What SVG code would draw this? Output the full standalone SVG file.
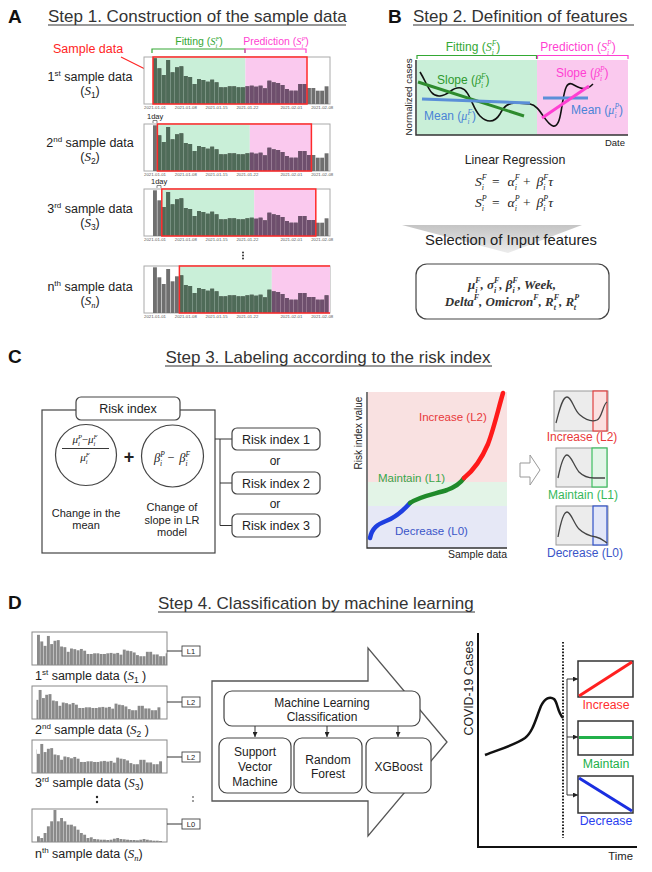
<svg xmlns="http://www.w3.org/2000/svg" xmlns:xlink="http://www.w3.org/1999/xlink" width="652" height="872" viewBox="0 0 652 872">
<style>
.s{font-family:"Liberation Sans",Arial,sans-serif;fill:#222}
.m{font-family:"Liberation Serif","DejaVu Serif",serif;font-style:italic}
.mb{font-family:"Liberation Serif","DejaVu Serif",serif;font-style:italic;font-weight:bold;fill:#333}
.up{font-style:normal}
.ttl{font-size:17px;fill:#333}
.pl{font-family:"Liberation Sans",Arial,sans-serif;font-weight:bold;font-size:19px;fill:#111}
.frame{fill:#fff;stroke:#aaa;stroke-width:1}
.tick{font-family:"Liberation Sans",Arial,sans-serif;font-size:4.3px;fill:#555;text-anchor:middle}
.box{fill:#fff;stroke:#444;stroke-width:1.2}
.ln{fill:none;stroke:#333;stroke-width:1}
.dfr{fill:#fff;stroke:#888;stroke-width:1}
.lb{fill:#fff;stroke:#444;stroke-width:0.9}
</style>
<defs>
<marker id="ah" viewBox="0 0 6 6" refX="6" refY="3" markerWidth="5" markerHeight="5" orient="auto"><path d="M0,0 L6,3 L0,6 z" fill="#222"/></marker>
<linearGradient id="gsel" x1="0" y1="0" x2="0" y2="1"><stop offset="0" stop-color="#c4c4c4"/><stop offset="1" stop-color="#ececec"/></linearGradient>
<clipPath id="cA"><rect x="-9" y="-48" width="186" height="49"/></clipPath>
<clipPath id="cF"><rect x="0" y="-48" width="92.4" height="49"/></clipPath>
<clipPath id="cP"><rect x="92.4" y="-48" width="61.6" height="49"/></clipPath>
<clipPath id="cD"><rect x="4.5" y="-33" width="130.5" height="33"/></clipPath>
<g id="barsA">
<rect x="0" y="-45.7" width="3.9" height="45.7"/><rect x="4.4" y="-35.7" width="3.9" height="35.7"/><rect x="8.8" y="-29" width="3.9" height="29"/><rect x="13.2" y="-44" width="3.9" height="44"/><rect x="17.6" y="-31.7" width="3.9" height="31.7"/><rect x="22" y="-36.7" width="3.9" height="36.7"/><rect x="26.4" y="-37.7" width="3.9" height="37.7"/><rect x="30.8" y="-28" width="3.9" height="28"/><rect x="35.2" y="-27" width="3.9" height="27"/><rect x="39.6" y="-20" width="3.9" height="20"/><rect x="44" y="-25" width="3.9" height="25"/><rect x="48.4" y="-24" width="3.9" height="24"/><rect x="52.8" y="-22.3" width="3.9" height="22.3"/><rect x="57.2" y="-24.3" width="3.9" height="24.3"/><rect x="61.6" y="-21.7" width="3.9" height="21.7"/><rect x="66" y="-16.7" width="3.9" height="16.7"/><rect x="70.4" y="-16.7" width="3.9" height="16.7"/><rect x="74.8" y="-17.7" width="3.9" height="17.7"/><rect x="79.2" y="-17.7" width="3.9" height="17.7"/><rect x="83.6" y="-16.7" width="3.9" height="16.7"/><rect x="88" y="-16.7" width="3.9" height="16.7"/><rect x="92.4" y="-17.7" width="3.9" height="17.7"/><rect x="96.8" y="-18.3" width="3.9" height="18.3"/><rect x="101.2" y="-17.3" width="3.9" height="17.3"/><rect x="105.6" y="-18.3" width="3.9" height="18.3"/><rect x="110" y="-15.7" width="3.9" height="15.7"/><rect x="114.4" y="-23.3" width="3.9" height="23.3"/><rect x="118.8" y="-21.7" width="3.9" height="21.7"/><rect x="123.2" y="-21" width="3.9" height="21"/><rect x="127.6" y="-19" width="3.9" height="19"/><rect x="132" y="-15" width="3.9" height="15"/><rect x="136.4" y="-13.3" width="3.9" height="13.3"/><rect x="140.8" y="-13.3" width="3.9" height="13.3"/><rect x="145.2" y="-20" width="3.9" height="20"/><rect x="149.6" y="-20" width="3.9" height="20"/><rect x="154" y="-16" width="3.9" height="16"/><rect x="158.4" y="-16" width="3.9" height="16"/><rect x="162.8" y="-13.3" width="3.9" height="13.3"/><rect x="167.2" y="-13.3" width="3.9" height="13.3"/><rect x="171.6" y="-17.7" width="3.9" height="17.7"/>
</g>
<g id="barsN">
<rect x="0" y="-5.7" width="2.9" height="5.7"/><rect x="3.3" y="-4" width="2.9" height="4"/><rect x="6.6" y="-9" width="2.9" height="9"/><rect x="9.9" y="-15.7" width="2.9" height="15.7"/><rect x="13.2" y="-20.7" width="2.9" height="20.7"/><rect x="16.5" y="-32" width="2.9" height="32"/><rect x="19.8" y="-20.7" width="2.9" height="20.7"/><rect x="23.1" y="-24" width="2.9" height="24"/><rect x="26.4" y="-20.7" width="2.9" height="20.7"/><rect x="29.7" y="-17.3" width="2.9" height="17.3"/><rect x="33" y="-17.3" width="2.9" height="17.3"/><rect x="36.3" y="-15.7" width="2.9" height="15.7"/><rect x="39.6" y="-12.3" width="2.9" height="12.3"/><rect x="42.9" y="-9" width="2.9" height="9"/><rect x="46.2" y="-7.3" width="2.9" height="7.3"/><rect x="49.5" y="-4" width="2.9" height="4"/><rect x="52.8" y="-4.7" width="2.9" height="4.7"/><rect x="56.1" y="-3" width="2.9" height="3"/><rect x="59.4" y="-2.7" width="2.9" height="2.7"/><rect x="62.7" y="-2.3" width="2.9" height="2.3"/><rect x="66" y="-2.3" width="2.9" height="2.3"/><rect x="69.3" y="-2" width="2.9" height="2"/><rect x="72.6" y="-2.3" width="2.9" height="2.3"/><rect x="75.9" y="-3.3" width="2.9" height="3.3"/><rect x="79.2" y="-4" width="2.9" height="4"/><rect x="82.5" y="-3" width="2.9" height="3"/><rect x="85.8" y="-2.7" width="2.9" height="2.7"/><rect x="89.1" y="-2.3" width="2.9" height="2.3"/><rect x="92.4" y="-2" width="2.9" height="2"/><rect x="95.7" y="-2" width="2.9" height="2"/><rect x="99" y="-1.7" width="2.9" height="1.7"/><rect x="102.3" y="-2.3" width="2.9" height="2.3"/><rect x="105.6" y="-3" width="2.9" height="3"/><rect x="108.9" y="-2.3" width="2.9" height="2.3"/><rect x="112.2" y="-1.7" width="2.9" height="1.7"/><rect x="115.5" y="-1.3" width="2.9" height="1.3"/><rect x="118.8" y="-1.3" width="2.9" height="1.3"/><rect x="122.1" y="-1" width="2.9" height="1"/>
</g>
<g id="ticks" class="tick"><text x="2" y="5">2021-01-01</text><text x="32.8" y="5">2021-01-08</text><text x="63.6" y="5">2021-01-15</text><text x="94.4" y="5">2021-01-22</text><text x="138.4" y="5">2021-02-01</text><text x="169.2" y="5">2021-02-08</text></g>
</defs>
<rect width="652" height="872" fill="#fff"/>

<!-- ===== Panel A ===== -->
<g id="panelA">
<text class="pl" x="8" y="23">A</text>
<text class="s ttl" x="48" y="22">Step 1. Construction of the sample data</text>
<line x1="48" y1="25" x2="346" y2="25" stroke="#333" stroke-width="1"/>
<g id="sampleLabel">
<text class="s" x="53" y="53" font-size="12.5" style="fill:#ff2424">Sample data</text>
<line x1="121" y1="57" x2="153" y2="73" stroke="#ff2424" stroke-width="1.2"/>
</g>
<g id="fitA">
<text class="s" x="199" y="45" font-size="10.5" text-anchor="middle" style="fill:#34a834">Fitting (<tspan class="m">S</tspan><tspan class="m" font-size="6.5" dy="-4.5">F</tspan><tspan class="m" font-size="6.5" dx="-4" dy="7.7">i</tspan><tspan dx="2" dy="-3.2">)</tspan></text>
<path d="M152,53 V49 H245 V53" fill="none" stroke="#34a834" stroke-width="1.2"/>
</g>
<g id="predA">
<text class="s" x="276" y="45" font-size="10.5" text-anchor="middle" style="fill:#ff3fd2">Prediction (<tspan class="m">S</tspan><tspan class="m" font-size="6.5" dy="-4.5">P</tspan><tspan class="m" font-size="6.5" dx="-4" dy="7.7">i</tspan><tspan dx="2" dy="-3.2">)</tspan></text>
<path d="M245,53 V49 H306 V53" fill="none" stroke="#ff3fd2" stroke-width="1.2"/>
</g>

<g id="chartA1">
<rect class="frame" x="144" y="57" width="186" height="47"/>
<g transform="translate(153,104)">
<g clip-path="url(#cA)">
<rect x="0" y="-47" width="92.4" height="47" fill="#c9efd8"/>
<rect x="92.4" y="-47" width="61.6" height="47" fill="#fac9ee"/>
<use xlink:href="#barsA" fill="#6f6f6f"/>
<g clip-path="url(#cF)"><use xlink:href="#barsA" fill="#4f6b58"/></g>
<g clip-path="url(#cP)"><use xlink:href="#barsA" fill="#6e4f6d"/></g>
<rect x="0" y="-47" width="154" height="47" fill="none" stroke="#ff2a2a" stroke-width="1.5"/>
</g>
<use xlink:href="#ticks"/>
</g>
<text class="s" x="90" y="81" font-size="12.5" text-anchor="middle">1<tspan font-size="8" dy="-5">st</tspan><tspan dy="5"> sample data</tspan></text>
<text class="s" x="90" y="95" font-size="12.5" text-anchor="middle">(<tspan class="m" font-size="13">S</tspan><tspan font-size="8.5" dy="3">1</tspan><tspan dy="-3">)</tspan></text>
</g>

<g id="chartA2">
<rect class="frame" x="144" y="124" width="186" height="47"/>
<g transform="translate(153,171)">
<g clip-path="url(#cA)">
<rect x="4.4" y="-47" width="92.4" height="47" fill="#c9efd8"/>
<rect x="96.8" y="-47" width="61.6" height="47" fill="#fac9ee"/>
<use xlink:href="#barsA" fill="#6f6f6f"/>
<g transform="translate(4.4,0)" clip-path="url(#cF)"><use xlink:href="#barsA" transform="translate(-4.4,0)" fill="#4f6b58"/></g>
<g transform="translate(4.4,0)" clip-path="url(#cP)"><use xlink:href="#barsA" transform="translate(-4.4,0)" fill="#6e4f6d"/></g>
<rect x="4.4" y="-47" width="154" height="47" fill="none" stroke="#ff2a2a" stroke-width="1.5"/>
</g>
<use xlink:href="#ticks"/>
</g>
<text class="s" x="147" y="119" font-size="7.5">1day</text>
<path d="M153,123 V120.5 H157 V123" fill="none" stroke="#555" stroke-width="0.7"/>
<text class="s" x="90" y="147" font-size="12.5" text-anchor="middle">2<tspan font-size="8" dy="-5">nd</tspan><tspan dy="5"> sample data</tspan></text>
<text class="s" x="90" y="161" font-size="12.5" text-anchor="middle">(<tspan class="m" font-size="13">S</tspan><tspan font-size="8.5" dy="3">2</tspan><tspan dy="-3">)</tspan></text>
</g>

<g id="chartA3">
<rect class="frame" x="144" y="189" width="186" height="47"/>
<g transform="translate(153,236)">
<g clip-path="url(#cA)">
<rect x="8.8" y="-47" width="92.4" height="47" fill="#c9efd8"/>
<rect x="101.2" y="-47" width="61.6" height="47" fill="#fac9ee"/>
<use xlink:href="#barsA" fill="#6f6f6f"/>
<g transform="translate(8.8,0)" clip-path="url(#cF)"><use xlink:href="#barsA" transform="translate(-8.8,0)" fill="#4f6b58"/></g>
<g transform="translate(8.8,0)" clip-path="url(#cP)"><use xlink:href="#barsA" transform="translate(-8.8,0)" fill="#6e4f6d"/></g>
<rect x="8.8" y="-47" width="154" height="47" fill="none" stroke="#ff2a2a" stroke-width="1.5"/>
</g>
<use xlink:href="#ticks"/>
</g>
<text class="s" x="151" y="184" font-size="7.5">1day</text>
<path d="M157,188 V185.5 H161 V188" fill="none" stroke="#555" stroke-width="0.7"/>
<text class="s" x="90" y="213" font-size="12.5" text-anchor="middle">3<tspan font-size="8" dy="-5">rd</tspan><tspan dy="5"> sample data</tspan></text>
<text class="s" x="90" y="227" font-size="12.5" text-anchor="middle">(<tspan class="m" font-size="13">S</tspan><tspan font-size="8.5" dy="3">3</tspan><tspan dy="-3">)</tspan></text>
</g>

<g id="dotsA" fill="#333"><circle cx="243" cy="252.5" r="1"/><circle cx="243" cy="255.5" r="1"/><circle cx="243" cy="258.5" r="1"/></g>

<g id="chartAn">
<rect class="frame" x="144" y="266" width="186" height="47"/>
<g transform="translate(153,313)">
<g clip-path="url(#cA)">
<rect x="26.4" y="-47" width="92.4" height="47" fill="#c9efd8"/>
<rect x="118.8" y="-47" width="61.6" height="47" fill="#fac9ee"/>
<use xlink:href="#barsA" fill="#6f6f6f"/>
<g transform="translate(26.4,0)" clip-path="url(#cF)"><use xlink:href="#barsA" transform="translate(-26.4,0)" fill="#4f6b58"/></g>
<g transform="translate(26.4,0)" clip-path="url(#cP)"><use xlink:href="#barsA" transform="translate(-26.4,0)" fill="#6e4f6d"/></g>
<rect x="26.4" y="-47" width="154" height="47" fill="none" stroke="#ff2a2a" stroke-width="1.5"/>
</g>
<use xlink:href="#ticks"/>
</g>
<text class="s" x="90" y="291" font-size="12.5" text-anchor="middle">n<tspan font-size="8" dy="-5">th</tspan><tspan dy="5"> sample data</tspan></text>
<text class="s" x="90" y="305" font-size="12.5" text-anchor="middle">(<tspan class="m" font-size="13">S</tspan><tspan class="m" font-size="8.5" dy="3">n</tspan><tspan dy="-3">)</tspan></text>
</g>
</g>

<!-- ===== Panel B ===== -->
<g id="panelB">
<text class="pl" x="388" y="23">B</text>
<text class="s ttl" x="413" y="22">Step 2.  Definition of features</text>
<line x1="413" y1="25" x2="634" y2="25" stroke="#333" stroke-width="1"/>
<g id="plotB">
<rect x="417" y="60" width="120" height="75" fill="#c9efd8"/>
<rect x="537" y="60" width="91" height="75" fill="#fac9ee"/>
<path d="M417,59 V55.5 H536.5 V59" fill="none" stroke="#34a834" stroke-width="1.2"/>
<path d="M537.5,59 V55.5 H628 V59" fill="none" stroke="#ff3fd2" stroke-width="1.2"/>
<text class="s" x="473" y="51" font-size="12" text-anchor="middle" style="fill:#34a834">Fitting (<tspan class="m">S</tspan><tspan class="m" font-size="7.5" dy="-5">F</tspan><tspan class="m" font-size="7.5" dx="-4.6" dy="8.5">i</tspan><tspan dx="2.5" dy="-3.5">)</tspan></text>
<text class="s" x="578" y="51" font-size="12" text-anchor="middle" style="fill:#ff3fd2">Prediction (<tspan class="m">S</tspan><tspan class="m" font-size="7.5" dy="-5">P</tspan><tspan class="m" font-size="7.5" dx="-4.6" dy="8.5">i</tspan><tspan dx="2.5" dy="-3.5">)</tspan></text>
<path d="M416,60 V135 H628" fill="none" stroke="#333" stroke-width="1.5"/>
<path d="M420,72 C428,85 430,97 440,96 C450,95 452,86 461,88 C470,90 472,108 480,116 C486,122 494,124 500,114 C504,106 508,103 516,103 L530,104 C540,105 545,124 553,126 C560,128 561,110 563,100 C565,88 567,82 572,84 C580,88 585,92 593,84" fill="none" stroke="#111" stroke-width="1.6"/>
<line x1="418" y1="82" x2="524" y2="116" stroke="#2e8b2e" stroke-width="3"/>
<line x1="422" y1="99" x2="530" y2="103" stroke="#5b8fd8" stroke-width="3"/>
<line x1="543" y1="98" x2="588" y2="98" stroke="#5b8fd8" stroke-width="3"/>
<line x1="542" y1="118" x2="589" y2="86" stroke="#ff3fd2" stroke-width="3"/>
<text class="s" x="437" y="84" font-size="12" style="fill:#2e9a2e">Slope (<tspan class="m">β</tspan><tspan class="m" font-size="7.5" dy="-5">F</tspan><tspan class="m" font-size="7.5" dx="-4.6" dy="8.5">i</tspan><tspan dx="2.5" dy="-3.5">)</tspan></text>
<text class="s" x="424" y="120" font-size="12" style="fill:#4a84d6">Mean (<tspan class="m">μ</tspan><tspan class="m" font-size="7.5" dy="-5">F</tspan><tspan class="m" font-size="7.5" dx="-4.6" dy="8.5">i</tspan><tspan dx="2.5" dy="-3.5">)</tspan></text>
<text class="s" x="556" y="77" font-size="12" style="fill:#ff3fd2">Slope (<tspan class="m">β</tspan><tspan class="m" font-size="7.5" dy="-5">P</tspan><tspan class="m" font-size="7.5" dx="-4.6" dy="8.5">i</tspan><tspan dx="2.5" dy="-3.5">)</tspan></text>
<text class="s" x="571" y="114" font-size="12" style="fill:#4a84d6">Mean (<tspan class="m">μ</tspan><tspan class="m" font-size="7.5" dy="-5">P</tspan><tspan class="m" font-size="7.5" dx="-4.6" dy="8.5">i</tspan><tspan dx="2.5" dy="-3.5">)</tspan></text>
<text class="s" x="0" y="0" font-size="9.7" text-anchor="middle" transform="translate(412,97) rotate(-90)">Normalized cases</text>
<text class="s" x="625" y="146" font-size="9.5" text-anchor="end">Date</text>
</g>
<g id="lrB">
<text class="s" x="515" y="164" font-size="12.4" text-anchor="middle">Linear Regression</text>
<text class="m" x="514" y="186" font-size="13.5" text-anchor="middle" fill="#222">S<tspan font-size="8" dy="-6">F</tspan><tspan font-size="8" dx="-4.9" dy="9.5">i</tspan><tspan class="up" dx="8" dy="-3.5">=</tspan><tspan dx="8">α</tspan><tspan font-size="8" dy="-6">F</tspan><tspan font-size="8" dx="-4.9" dy="9.5">i</tspan><tspan class="up" dx="6" dy="-3.5">+</tspan><tspan dx="6">β</tspan><tspan font-size="8" dy="-6">F</tspan><tspan font-size="8" dx="-4.9" dy="9.5">i</tspan><tspan dx="2.7" dy="-3.5">τ</tspan></text>
<text class="m" x="514" y="207" font-size="13.5" text-anchor="middle" fill="#222">S<tspan font-size="8" dy="-6">P</tspan><tspan font-size="8" dx="-4.9" dy="9.5">i</tspan><tspan class="up" dx="8" dy="-3.5">=</tspan><tspan dx="8">α</tspan><tspan font-size="8" dy="-6">P</tspan><tspan font-size="8" dx="-4.9" dy="9.5">i</tspan><tspan class="up" dx="6" dy="-3.5">+</tspan><tspan dx="6">β</tspan><tspan font-size="8" dy="-6">P</tspan><tspan font-size="8" dx="-4.9" dy="9.5">i</tspan><tspan dx="2.7" dy="-3.5">τ</tspan></text>
</g>
<g id="selB">
<polygon points="402,225 582,225 508,253" fill="url(#gsel)"/>
<text class="s" x="511" y="245" font-size="14.8" text-anchor="middle">Selection of Input features</text>
</g>
<g id="featB">
<rect class="box" x="416" y="264" width="193" height="55" rx="11"/>
<text class="mb" x="512" y="289" font-size="13" text-anchor="middle">μ<tspan font-size="8" dy="-6">F</tspan><tspan font-size="8" dx="-5.3" dy="9.5">i</tspan><tspan dx="3" dy="-3.5">, σ</tspan><tspan font-size="8" dy="-6">F</tspan><tspan font-size="8" dx="-5.3" dy="9.5">i</tspan><tspan dx="3" dy="-3.5">, β</tspan><tspan font-size="8" dy="-6">F</tspan><tspan font-size="8" dx="-5.3" dy="9.5">i</tspan><tspan dx="3" dy="-3.5">, Week,</tspan></text>
<text class="mb" x="512" y="306" font-size="13" text-anchor="middle">Delta<tspan font-size="8" dy="-6">F</tspan><tspan dy="6">, Omicron</tspan><tspan font-size="8" dy="-6">F</tspan><tspan dy="6">, R</tspan><tspan font-size="8" dy="-6">F</tspan><tspan font-size="8" dx="-5.3" dy="9.5">t</tspan><tspan dx="3" dy="-3.5">, R</tspan><tspan font-size="8" dy="-6">P</tspan><tspan font-size="8" dx="-5.3" dy="9.5">t</tspan></text>
</g>
</g>

<!-- ===== Panel C ===== -->
<g id="panelC">
<text class="pl" x="8" y="363">C</text>
<text class="s ttl" x="328" y="363" text-anchor="middle">Step 3. Labeling according to the risk index</text>
<line x1="165" y1="366" x2="492" y2="366" stroke="#333" stroke-width="1"/>
<g id="riskBox">
<rect x="42" y="410" width="173" height="143" fill="#fff" stroke="#444" stroke-width="1.2"/>
<rect class="box" x="76" y="397" width="104" height="23" rx="5"/>
<text class="s" x="128" y="413" font-size="12.5" text-anchor="middle">Risk index</text>
<circle cx="86" cy="455" r="30.5" fill="#fff" stroke="#444" stroke-width="1.2"/>
<text class="m" x="85" y="443" font-size="11" text-anchor="middle" fill="#222">μ<tspan font-size="6.5" dy="-4.5">P</tspan><tspan font-size="6.5" dx="-4" dy="7.5">i</tspan><tspan class="up" dx="2" dy="-3">−</tspan>μ<tspan font-size="6.5" dy="-4.5">F</tspan><tspan font-size="6.5" dx="-4" dy="7.5">i</tspan></text>
<line x1="62" y1="448.5" x2="109" y2="448.5" stroke="#222" stroke-width="0.9"/>
<text class="m" x="85" y="461" font-size="11" text-anchor="middle" fill="#222">μ<tspan font-size="6.5" dy="-4.5">F</tspan><tspan font-size="6.5" dx="-4" dy="7.5">i</tspan></text>
<text class="s" x="129" y="463" font-size="18" font-weight="bold" text-anchor="middle">+</text>
<circle cx="172.5" cy="456" r="31" fill="#fff" stroke="#444" stroke-width="1.2"/>
<text class="m" x="172" y="462" font-size="12.5" text-anchor="middle" fill="#222">β<tspan font-size="7.5" dy="-5">P</tspan><tspan font-size="7.5" dx="-4.6" dy="8.5">i</tspan><tspan class="up" dx="5" dy="-3.5">−</tspan><tspan dx="5">β</tspan><tspan font-size="7.5" dy="-5">F</tspan><tspan font-size="7.5" dx="-4.6" dy="8.5">i</tspan></text>
<text class="s" x="86" y="517" font-size="11" text-anchor="middle">Change in the</text>
<text class="s" x="86" y="529" font-size="11" text-anchor="middle">mean</text>
<text class="s" x="172" y="511" font-size="11" text-anchor="middle">Change of</text>
<text class="s" x="172" y="523.5" font-size="11" text-anchor="middle">slope in LR</text>
<text class="s" x="172" y="536" font-size="11" text-anchor="middle">model</text>
</g>
<g id="connC">
<path class="ln" d="M215,439 H232 M220,439 V525.5 M220,483 H232 M220,525.5 H232"/>
</g>
<g id="ri1"><rect class="box" x="232" y="428" width="88" height="22" rx="5"/><text class="s" x="276" y="443.5" font-size="12.5" text-anchor="middle">Risk index 1</text></g>
<text class="s" x="275" y="465" font-size="12" text-anchor="middle">or</text>
<g id="ri2"><rect class="box" x="232" y="472" width="88" height="22" rx="5"/><text class="s" x="276" y="487.5" font-size="12.5" text-anchor="middle">Risk index 2</text></g>
<text class="s" x="275" y="508" font-size="12" text-anchor="middle">or</text>
<g id="ri3"><rect class="box" x="232" y="514" width="88" height="23" rx="5"/><text class="s" x="276" y="530" font-size="12.5" text-anchor="middle">Risk index 3</text></g>

<g id="chartC">
<rect x="368" y="392" width="139" height="90" fill="#f9e1e1"/>
<rect x="368" y="482" width="139" height="24" fill="#e3f4e7"/>
<rect x="368" y="506" width="139" height="42" fill="#e6e8f6"/>
<path d="M367,392 V548 H507" fill="none" stroke="#333" stroke-width="1.3"/>
<path d="M370,538 C372,528 378,524 386,521 C394,518 402,512 410,503" fill="none" stroke="#1f3fe0" stroke-width="4.5" stroke-linecap="round"/>
<path d="M410,503 C420,496 435,494 447,490 C455,487 460,484 464,478" fill="none" stroke="#1f8a2a" stroke-width="4.5" stroke-linecap="round"/>
<path d="M464,478 C474,470 482,458 488,444 C494,428 498,410 503,393" fill="none" stroke="#ff1a1a" stroke-width="4.5" stroke-linecap="round"/>
<text class="s" x="419" y="421" font-size="11.5" style="fill:#e8393a">Increase (L2)</text>
<text class="s" x="378" y="482" font-size="11.5" style="fill:#36a84a">Maintain (L1)</text>
<text class="s" x="395" y="535" font-size="11.5" style="fill:#3a55c8">Decrease (L0)</text>
<text class="s" x="0" y="0" font-size="10" text-anchor="middle" transform="translate(362,433) rotate(-90)">Risk index value</text>
<text class="s" x="507" y="558" font-size="10.5" text-anchor="end">Sample data</text>
</g>
<polygon id="arrowC" points="520,463 530,463 530,455 540,470 530,485 530,477 520,477" fill="#fff" stroke="#999" stroke-width="1"/>
<g id="miniInc">
<rect x="554" y="391" width="54" height="40" fill="#ececec" stroke="#9a9a9a" stroke-width="1"/>
<rect x="593" y="391" width="14" height="40" fill="#fbe0e0" stroke="#e04040" stroke-width="1.2"/>
<path d="M556,423 C559,412 562,397 567,397 C572,397 574,411 580,415 C586,420 592,422 597,420 C602,418 603,404 607,402" fill="none" stroke="#444" stroke-width="1.3"/>
<text class="s" x="582" y="441" font-size="12" text-anchor="middle" style="fill:#e8393a">Increase (L2)</text>
</g>
<g id="miniMain">
<rect x="556" y="448" width="51" height="39" fill="#ececec" stroke="#9a9a9a" stroke-width="1"/>
<rect x="592" y="448" width="15" height="39" fill="#e3f5e8" stroke="#3cc060" stroke-width="1.2"/>
<path d="M558,478 C560,468 563,455 567,455 C571,455 574,466 579,472 C584,477 590,478 594,478 L605,478" fill="none" stroke="#444" stroke-width="1.3"/>
<text class="s" x="583" y="499" font-size="12" text-anchor="middle" style="fill:#36b85a">Maintain  (L1)</text>
</g>
<g id="miniDec">
<rect x="556" y="506" width="52" height="39" fill="#ececec" stroke="#9a9a9a" stroke-width="1"/>
<rect x="593" y="506" width="14" height="39" fill="#e2e6f8" stroke="#3050c8" stroke-width="1.2"/>
<path d="M558,537 C560,526 563,512 567,512 C571,512 574,524 579,529 C584,534 590,536 596,537 C601,538 604,541 607,543" fill="none" stroke="#444" stroke-width="1.3"/>
<text class="s" x="585" y="557" font-size="12" text-anchor="middle" style="fill:#3a55c8">Decrease (L0)</text>
</g>
</g>

<!-- ===== Panel D ===== -->
<g id="panelD">
<text class="pl" x="8" y="609">D</text>
<text class="s ttl" x="158" y="609">Step 4. Classification by machine learning</text>
<line x1="158" y1="612" x2="475" y2="612" stroke="#333" stroke-width="1"/>

<g id="chartD1">
<rect class="dfr" x="32" y="632" width="135" height="33"/>
<g transform="translate(32,665)" clip-path="url(#cD)"><use xlink:href="#barsA" transform="translate(5,0) scale(0.75,0.66)" fill="#8a8a8a"/></g>
<text class="s" x="35" y="680" font-size="12.5">1<tspan font-size="8" dy="-5">st</tspan><tspan dy="5"> sample data (</tspan><tspan class="m" font-size="13">S</tspan><tspan font-size="8.5" dy="3">1</tspan><tspan dy="-3"> )</tspan></text>
</g>
<g id="chartD2">
<rect class="dfr" x="32" y="686" width="135" height="33"/>
<g transform="translate(32,719)" clip-path="url(#cD)"><use xlink:href="#barsA" transform="translate(-3.25,0) scale(0.75,0.66)" fill="#8a8a8a"/></g>
<text class="s" x="35" y="734" font-size="12.5">2<tspan font-size="8" dy="-5">nd</tspan><tspan dy="5"> sample data (</tspan><tspan class="m" font-size="13">S</tspan><tspan font-size="8.5" dy="3">2</tspan><tspan dy="-3"> )</tspan></text>
</g>
<g id="chartD3">
<rect class="dfr" x="32" y="740" width="135" height="33"/>
<g transform="translate(32,773)" clip-path="url(#cD)"><use xlink:href="#barsA" transform="translate(-1.6,0) scale(0.75,0.66)" fill="#8a8a8a"/></g>
<text class="s" x="35" y="787" font-size="12.5">3<tspan font-size="8" dy="-5">rd</tspan><tspan dy="5"> sample data (</tspan><tspan class="m" font-size="13">S</tspan><tspan font-size="8.5" dy="3">3</tspan><tspan dy="-3">)</tspan></text>
</g>
<g id="dotsD" fill="#222"><circle cx="97" cy="797" r="1.2"/><circle cx="97" cy="802" r="1.2"/><circle cx="193" cy="797" r="0.8"/><circle cx="193" cy="801" r="0.8"/></g>
<g id="chartDn">
<rect class="dfr" x="32" y="809" width="135" height="33"/>
<g transform="translate(37,842)"><use xlink:href="#barsN" fill="#8a8a8a"/></g>
<text class="s" x="35" y="858" font-size="12.5">n<tspan font-size="8" dy="-5">th</tspan><tspan dy="5"> sample data (</tspan><tspan class="m" font-size="13">S</tspan><tspan class="m" font-size="8.5" dy="3">n</tspan><tspan dy="-3">)</tspan></text>
</g>
<g id="connD1" class="ln"><path d="M167,651 H182 M167,702 H182 M167,757 H182 M167,824 H182"/></g>
<g id="L1box"><rect class="lb" x="182" y="646" width="18" height="10"/><text class="s" x="191" y="654" font-size="7.5" text-anchor="middle">L1</text></g>
<g id="L2boxA"><rect class="lb" x="182" y="697" width="18" height="10"/><text class="s" x="191" y="705" font-size="7.5" text-anchor="middle">L2</text></g>
<g id="L2boxB"><rect class="lb" x="182" y="752" width="18" height="10"/><text class="s" x="191" y="760" font-size="7.5" text-anchor="middle">L2</text></g>
<g id="L0box"><rect class="lb" x="182" y="819" width="18" height="10"/><text class="s" x="191" y="827" font-size="7.5" text-anchor="middle">L0</text></g>

<polygon id="bigArrow" points="212,681 368,681 368,648 447,742 368,836 368,801 212,801" fill="#fff" stroke="#555" stroke-width="1.3"/>
<g id="mlBox"><rect class="box" x="224" y="691" width="196" height="35" rx="8"/>
<text class="s" x="322" y="707" font-size="12" text-anchor="middle">Machine Learning</text>
<text class="s" x="322" y="721" font-size="12" text-anchor="middle">Classification</text></g>
<g id="connD2" class="ln"><path d="M255,726 V737" marker-end="url(#ah)"/><path d="M327,726 V737" marker-end="url(#ah)"/><path d="M398,726 V737" marker-end="url(#ah)"/></g>
<g id="svm"><rect class="box" x="219" y="738" width="72" height="55" rx="8"/>
<text class="s" x="255" y="756" font-size="12" text-anchor="middle">Support</text>
<text class="s" x="255" y="771" font-size="12" text-anchor="middle">Vector</text>
<text class="s" x="255" y="786" font-size="12" text-anchor="middle">Machine</text></g>
<g id="rf"><rect class="box" x="294" y="738" width="68" height="55" rx="8"/>
<text class="s" x="328" y="764" font-size="12" text-anchor="middle">Random</text>
<text class="s" x="328" y="778" font-size="12" text-anchor="middle">Forest</text></g>
<g id="xgb"><rect class="box" x="366" y="738" width="65" height="55" rx="8"/>
<text class="s" x="398.5" y="771" font-size="12" text-anchor="middle">XGBoost</text></g>

<g id="plotD">
<path d="M478,633 V847 H637" fill="none" stroke="#111" stroke-width="2"/>
<text class="s" x="0" y="0" font-size="12.3" text-anchor="middle" transform="translate(473,688) rotate(-90)">COVID-19 Cases</text>
<text class="s" x="633" y="860" font-size="11.3" text-anchor="end">Time</text>
<path d="M485,755 C500,749 515,745 525,738 C533,732 536,718 541,706 C545,698 550,696 554,699 C558,703 557,711 563,718" fill="none" stroke="#111" stroke-width="2.5"/>
<line x1="563" y1="642" x2="563" y2="838" stroke="#222" stroke-width="2" stroke-dasharray="1.6,1.6"/>
</g>
<g id="connD3" class="ln"><path d="M567,679 V795"/><path d="M567,679 H578" marker-end="url(#ah)"/><path d="M567,737 H578" marker-end="url(#ah)"/><path d="M567,795 H578" marker-end="url(#ah)"/></g>
<g id="incD"><rect x="578" y="661" width="55" height="36" fill="#fff" stroke="#333" stroke-width="1.5"/><line x1="579" y1="696" x2="632" y2="662" stroke="#ff2020" stroke-width="3"/>
<text class="s" x="606" y="709" font-size="12.3" text-anchor="middle" style="fill:#ff3030">Increase</text></g>
<g id="mainD"><rect x="578" y="721" width="55" height="34" fill="#fff" stroke="#333" stroke-width="1.5"/><line x1="579" y1="737.5" x2="632" y2="737.5" stroke="#22b04a" stroke-width="3"/>
<text class="s" x="606" y="768" font-size="12.3" text-anchor="middle" style="fill:#22b04a">Maintain</text></g>
<g id="decD"><rect x="578" y="776" width="55" height="37" fill="#fff" stroke="#333" stroke-width="1.5"/><line x1="579" y1="778" x2="632" y2="811" stroke="#1a2ee0" stroke-width="3"/>
<text class="s" x="606" y="825" font-size="12.3" text-anchor="middle" style="fill:#2a3ef0">Decrease</text></g>
</g>
</svg>
